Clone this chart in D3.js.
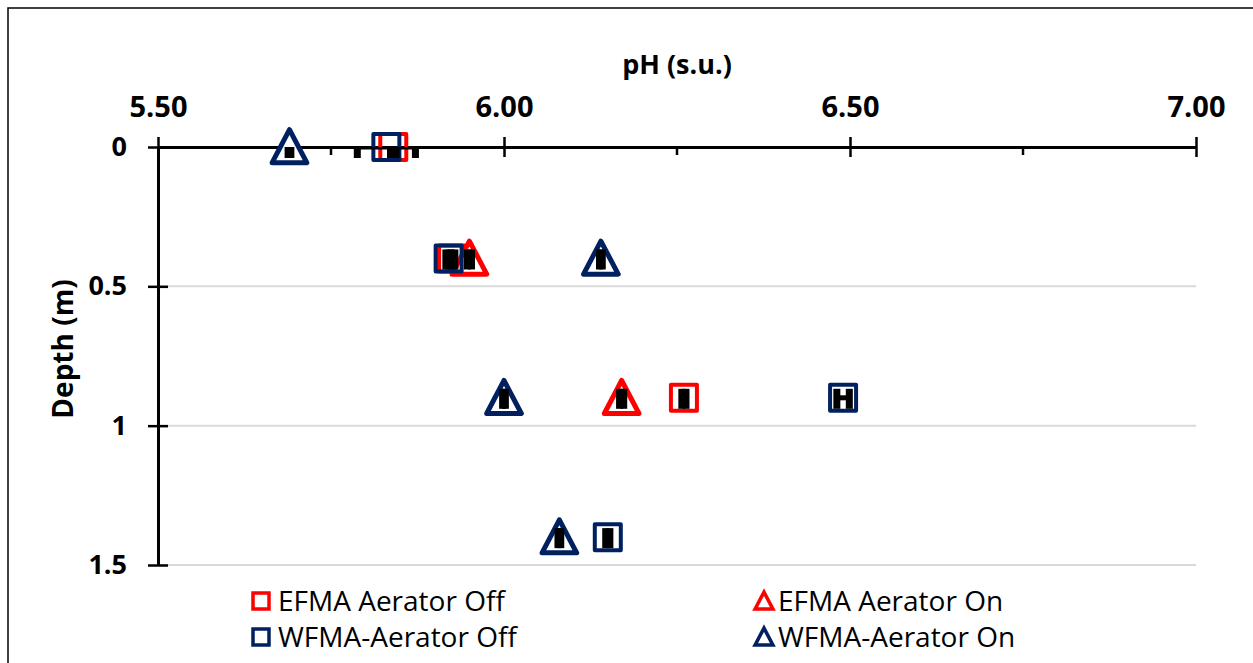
<!DOCTYPE html>
<meta charset="utf-8">
<script src="https://d3js.org/d3.v7.min.js"></script>
<style>
	body{
		margin:0;
		background:#fff;
		font-family:'Open Sans', sans-serif;
	}
</style>
<div id="chart"></div>
<script>

// values
var seriesNames = ["EFMA Aerator Off","EFMA Aerator On","WFMA-Aerator Off","WFMA-Aerator On"]
var seriesColors = ["#ff0000","#ff0000","#002060","#002060"]
var seriesShapes = ["square","triangle","square","triangle"]

var efmaOffDepth = [0, 0.4, 0.9]
var efmaOffPh = [5.84, 5.925, 6.26]
var efmaOffErr = [0.004, 0.004, 0.003]

var efmaOnDepth = [0.4, 0.9]
var efmaOnPh = [5.95, 6.17]
var efmaOnErr = [0.003, 0.003]

var wfmaOffDepth = [0, 0.4, 0.9, 1.4]
var wfmaOffPh = [5.83, 5.92, 6.49, 6.15]
var wfmaOffErr = [0.042, 0.004, 0.009, 0.003]

var wfmaOnDepth = [0, 0.4, 0.9, 1.4]
var wfmaOnPh = [5.69, 6.14, 6.00, 6.08]
var wfmaOnErr = [0.002, 0.002, 0.002, 0.002]

var xTicks = [5.5, 6.0, 6.5, 7.0]
var xMinorTicks = [5.75, 6.25, 6.75]
var yTicks = [0, 0.5, 1, 1.5]

var w = 1253
var h = 663
// plot area edges (window.top is read only, so no "top" here)
var pLeft = 158, pRight = 1196, pTop = 147, pBottom = 565

var svg = d3.select("#chart").append("svg").attr("width",w).attr("height",h)

// outer frame
svg.append("rect").attr("x",8).attr("y",8).attr("width",w).attr("height",h)
	.attr("fill","none").attr("stroke","#000").attr("stroke-width",1.5)

var x = d3.scaleLinear().domain([5.5,7.0]).range([pLeft,pRight])
var y = d3.scaleLinear().domain([0,1.5]).range([pTop,pBottom])

svg.append("defs").append("clipPath").attr("id","plotClip")
	.append("rect").attr("x",pLeft-20).attr("y",pTop).attr("width",pRight-pLeft+40).attr("height",pBottom-pTop+20)

// gridlines
svg.append("g").selectAll("line").data(yTicks.slice(1)).join("line")
	.attr("x1",pLeft).attr("x2",pRight)
	.attr("y1",function(d){return y(d)}).attr("y2",function(d){return y(d)})
	.attr("stroke","#d9d9d9").attr("stroke-width",2)

// top axis
var xAxis = d3.axisTop(x).tickValues(xTicks).tickFormat(d3.format(".2f")).tickSizeInner(0).tickSizeOuter(0).tickPadding(30)
var gx = svg.append("g").attr("transform","translate(0,"+pTop+")").call(xAxis)
gx.select(".domain").attr("stroke","#000").attr("stroke-width",3)
gx.selectAll(".tick text").style("font-size","29px").style("font-weight","700").style("font-family","'Open Sans', sans-serif").attr("fill","#000")
gx.selectAll(".tick").append("line").attr("y1",-10).attr("y2",10).attr("stroke","#000").attr("stroke-width",2.5)
svg.append("g").selectAll("line").data(xMinorTicks).join("line")
	.attr("x1",function(d){return x(d)}).attr("x2",function(d){return x(d)})
	.attr("y1",pTop).attr("y2",pTop+8)
	.attr("stroke","#000").attr("stroke-width",2.5)

// left axis
var yAxis = d3.axisLeft(y).tickValues(yTicks).tickFormat(function(d){return d}).tickSizeInner(0).tickSizeOuter(0).tickPadding(31)
var gy = svg.append("g").attr("transform","translate("+pLeft+",0)").call(yAxis)
gy.select(".domain").attr("stroke","#000").attr("stroke-width",3)
gy.selectAll(".tick text").style("font-size","27px").style("font-weight","700").style("font-family","'Open Sans', sans-serif").attr("fill","#000")
gy.selectAll(".tick").append("line").attr("x1",-10).attr("x2",10).attr("stroke","#000").attr("stroke-width",2.5)

// axis titles
svg.append("text").text("pH (s.u.)").attr("x",(pLeft+pRight)/2).attr("y",74)
	.attr("text-anchor","middle").style("font-size","27px").style("font-weight","700")
svg.append("text").text("Depth (m)").attr("transform","translate(73,349) rotate(-90)")
	.attr("text-anchor","middle").style("font-size","28px").style("font-weight","700")

var series = [
	{name:seriesNames[0], depth:efmaOffDepth, ph:efmaOffPh, err:efmaOffErr},
	{name:seriesNames[1], depth:efmaOnDepth, ph:efmaOnPh, err:efmaOnErr},
	{name:seriesNames[2], depth:wfmaOffDepth, ph:wfmaOffPh, err:wfmaOffErr},
	{name:seriesNames[3], depth:wfmaOnDepth, ph:wfmaOnPh, err:wfmaOnErr}
]

function markerPath(shape, s){
	if(shape=="square"){
		return "M"+(-s)+","+(-s)+"H"+s+"V"+s+"H"+(-s)+"Z"
	}
	return "M0,"+(-s*1.05)+"L"+(s*1.05)+","+(s*0.95)+"L"+(-s*1.05)+","+(s*0.95)+"Z"
}

var markersG = svg.append("g")
var errG = svg.append("g").attr("clip-path","url(#plotClip)")

series.forEach(function(sr,i){
	var pts = sr.depth.map(function(dd,j){return {depth:dd, ph:sr.ph[j], err:sr.err[j]}})
	var shape = seriesShapes[i]
	markersG.selectAll(".m"+i).data(pts).join("path")
		.attr("class","m"+i)
		.attr("transform",function(d){return "translate("+x(d.ph)+","+y(d.depth)+")"})
		.attr("d",markerPath(shape, shape=="square"?13:16.5))
		.attr("fill",shape=="square"?"none":"#fff")
		.attr("stroke",seriesColors[i])
		.attr("stroke-width",shape=="square"?4:5)
		.attr("stroke-linejoin","round")
})

// error bars drawn above the markers
series.forEach(function(sr,i){
	var pts = sr.depth.map(function(dd,j){return {depth:dd, ph:sr.ph[j], err:sr.err[j]}})
	var g = errG.append("g")
	g.selectAll(".bar").data(pts).join("line")
		.attr("x1",function(d){return x(d.ph-d.err)}).attr("x2",function(d){return x(d.ph+d.err)})
		.attr("y1",function(d){return y(d.depth)}).attr("y2",function(d){return y(d.depth)})
		.attr("stroke","#000").attr("stroke-width",5)
	pts.forEach(function(d){
		[d.ph-d.err, d.ph+d.err].forEach(function(v){
			g.append("line")
				.attr("x1",x(v)).attr("x2",x(v))
				.attr("y1",y(d.depth)-9).attr("y2",y(d.depth)+11)
				.attr("stroke","#000").attr("stroke-width",7)
		})
	})
})

// legend
var legendPos = [[261,601],[764,601],[261,637],[764,637]]
series.forEach(function(sr,i){
	var lg = svg.append("g").attr("transform","translate("+legendPos[i][0]+","+legendPos[i][1]+")")
	var shape = seriesShapes[i]
	lg.append("path").attr("d",markerPath(shape, shape=="square"?8:8.5))
		.attr("fill","none").attr("stroke",seriesColors[i]).attr("stroke-width",3.5)
	lg.append("text").text(sr.name).attr("x",shape=="square"?17:14).attr("y",10)
		.style("font-size","28px").style("font-family","'Open Sans', sans-serif").attr("fill","#000")
})

</script>
